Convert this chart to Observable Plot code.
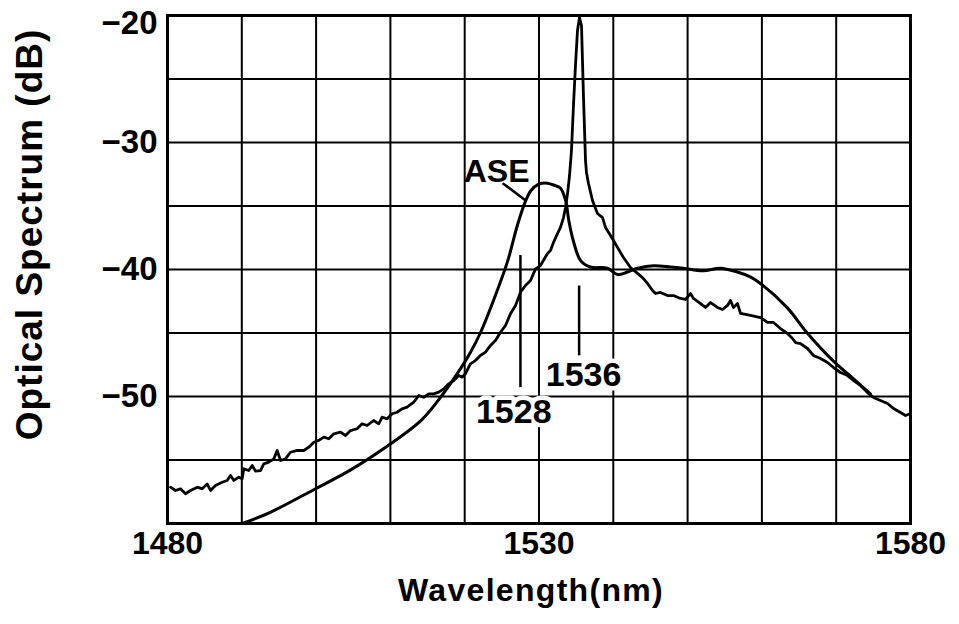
<!DOCTYPE html>
<html>
<head>
<meta charset="utf-8">
<script src="https://cdn.jsdelivr.net/npm/d3@7"></script>
<script src="https://cdn.jsdelivr.net/npm/@observablehq/plot@0.6"></script>
<style>
  html, body { margin: 0; padding: 0; background: white; }
</style>
</head>
<body>
<div id="chart"></div>
<script>
// ---- Data ----
const gridWavelengths = [1480, 1490, 1500, 1510, 1520, 1530, 1540, 1550, 1560, 1570, 1580];
const gridDb = [-60, -55, -50, -45, -40, -35, -30, -25, -20];
const xTickValues = [1480, 1530, 1580];
const yTickValues = [-20, -30, -40, -50];

// Laser output spectrum (noisy trace with sharp peak)
const laserWl = [
  1480.40, 1481.08, 1481.75, 1482.42, 1483.10, 1484.00, 1484.67, 1485.34, 1485.79, 1486.46,
  1487.36, 1488.03, 1488.48, 1488.93, 1489.60, 1490.05, 1490.27, 1490.94, 1491.40, 1491.84,
  1492.52, 1492.96, 1493.63, 1494.31, 1494.76, 1495.21, 1495.88, 1496.55, 1497.46, 1498.35,
  1499.02, 1499.69, 1500.36, 1501.04, 1501.71, 1502.38, 1503.28, 1503.96, 1504.63, 1505.52,
  1506.19, 1506.87, 1507.76, 1508.43, 1508.88, 1509.56, 1510.23, 1510.90, 1511.57, 1512.25,
  1513.14, 1513.82, 1514.49, 1515.16, 1515.83, 1516.51, 1517.18, 1517.85, 1518.53, 1519.20,
  1519.65, 1520.09, 1520.77, 1521.44, 1522.11, 1522.80, 1523.47, 1524.14, 1524.82, 1525.49,
  1526.16, 1526.84, 1527.51, 1528.18, 1528.86, 1529.53, 1530.20, 1531.14, 1531.55, 1531.95,
  1532.49, 1532.89, 1533.30, 1533.57, 1533.84, 1534.11, 1534.37, 1534.64, 1534.91, 1535.18,
  1535.45, 1535.72, 1535.99, 1536.26, 1536.39, 1536.66, 1537.20, 1537.87, 1538.55, 1538.95,
  1539.62, 1540.03, 1540.57, 1541.37, 1542.31, 1543.26, 1544.06, 1544.60, 1545.28, 1545.68,
  1546.35, 1547.29, 1548.10, 1549.04, 1549.72, 1550.39, 1550.79, 1551.74, 1552.41, 1553.08,
  1554.02, 1554.70, 1555.37, 1555.77, 1556.18, 1556.72, 1557.12, 1558.47, 1559.81, 1560.75,
  1561.56, 1562.50, 1563.45, 1564.12, 1564.52, 1565.19, 1566.14, 1566.94, 1567.89, 1568.83,
  1569.64, 1570.58, 1571.52, 1572.33, 1573.27, 1574.21, 1575.02, 1575.96, 1576.90, 1577.71,
  1578.65, 1579.33, 1580.00];
const laserDb = [
  -57.14, -57.40, -57.27, -57.66, -57.40, -57.14, -57.27, -56.88, -57.40, -57.01,
  -56.75, -56.61, -56.22, -56.61, -56.35, -56.48, -55.69, -55.83, -55.43, -55.88,
  -55.83, -55.30, -55.17, -54.91, -54.25, -55.04, -54.91, -54.39, -54.25, -54.25,
  -53.99, -53.60, -53.46, -53.20, -53.33, -52.94, -52.81, -53.07, -52.68, -52.54,
  -52.15, -52.28, -51.89, -52.15, -51.63, -51.76, -51.36, -51.24, -50.97, -50.84,
  -50.45, -49.92, -50.06, -49.79, -49.79, -49.66, -49.40, -49.00, -48.74, -48.35,
  -48.48, -48.21, -47.43, -47.17, -46.77, -46.51, -45.98, -45.59, -44.94, -44.41,
  -43.49, -42.83, -41.79, -41.26, -40.87, -39.95, -39.69, -38.74, -38.50, -37.87,
  -37.17, -36.69, -35.91, -35.12, -34.02, -32.60, -30.63, -27.09, -23.94, -21.18,
  -20.16, -20.79, -26.46, -31.42, -32.36, -33.23, -34.57, -35.59, -35.91, -36.69,
  -37.32, -37.72, -38.27, -39.06, -39.84, -40.31, -40.71, -41.10, -41.65, -41.89,
  -41.81, -42.05, -42.05, -42.28, -42.36, -41.89, -42.28, -42.68, -42.99, -42.60,
  -42.99, -43.15, -42.83, -42.44, -42.99, -42.68, -43.46, -43.62, -43.78, -44.17,
  -44.17, -44.65, -45.04, -45.43, -45.75, -45.83, -46.22, -46.77, -47.01, -47.32,
  -47.72, -48.11, -48.35, -48.74, -49.13, -49.69, -50.08, -50.31, -50.55, -50.94,
  -51.26, -51.50, -51.34];

// ASE spectrum (smooth trace)
const aseWl = [1490.1, 1493.9, 1499.8, 1504.6, 1509.6, 1514.1, 1516.7, 1519.0, 1520.8, 1522.1,
  1523.9, 1525.8, 1527.1, 1528.2, 1528.9, 1529.9, 1531.1, 1532.2, 1532.9, 1533.6,
  1534.0, 1534.6, 1535.6, 1536.9, 1539.2, 1540.6, 1541.9, 1543.3, 1545.4, 1547.7,
  1549.4, 1552.1, 1554.4, 1556.7, 1558.5, 1559.8, 1563.4, 1566.1, 1569.6, 1572.3,
  1574.6];
const aseDb = [-60.0, -59.1, -57.3, -55.8, -53.9, -51.9, -50.1, -48.2, -46.5, -45.0,
  -42.4, -39.3, -36.5, -34.6, -33.8, -33.3, -33.2, -33.4, -33.6, -34.6,
  -36.1, -37.7, -39.3, -39.8, -39.9, -40.4, -40.2, -39.9, -39.7, -39.8,
  -39.9, -40.1, -39.9, -40.2, -40.6, -41.1, -43.0, -45.0, -47.2, -48.6,
  -49.8];

// Annotations
const markerLabels = ["1528", "1536"];
const markerWl = [1527.5, 1535.4];
const markerTop = [-38.9, -41.3];
const markerBottom = [-49.3, -46.8];
const markerLabelWl = [1526.6, 1536.0];
const markerLabelDb = [-51.2, -48.3];

const aseLabel = "ASE";
const aseLabelPos = [1524.3, -32.3];
const aseLeader = [1525.1, -33.2, 1528.3, -34.6];

const xLabel = "Wavelength(nm)";
const yLabel = "Optical Spectrum (dB)";

// ---- Build tables ----
const laser = laserWl.map((w, i) => ({wl: w, db: laserDb[i]}));
const ase = aseWl.map((w, i) => ({wl: w, db: aseDb[i]}));
const markers = markerLabels.map((t, i) => ({
  text: t, wl: markerWl[i], top: markerTop[i], bottom: markerBottom[i],
  lx: markerLabelWl[i], ly: markerLabelDb[i]
}));
const topTick = d3.max(yTickValues);
const fmtY = d => (d < 0 ? "\u2212" : "") + Math.abs(d);

const FONT = "'Liberation Sans', Arial, Helvetica, sans-serif";

const chart = Plot.plot({
  width: 959,
  height: 624,
  marginLeft: 167,
  marginRight: 49,
  marginTop: 15,
  marginBottom: 101,
  style: {fontFamily: FONT, fontWeight: "bold", fontSize: "32px", color: "black", background: "white"},
  x: {domain: [1480, 1580], ticks: xTickValues, tickSize: 0, tickPadding: 8, tickFormat: d => String(d), label: null},
  y: {domain: [-60, -20], axis: null},
  marks: [
    Plot.ruleX(gridWavelengths, {stroke: "black", strokeWidth: 2}),
    Plot.ruleY(gridDb, {stroke: "black", strokeWidth: 2}),
    Plot.frame({stroke: "black", strokeWidth: 3}),
    Plot.line(ase, {x: "wl", y: "db", stroke: "black", strokeWidth: 3, curve: "catmull-rom"}),
    Plot.line(laser, {x: "wl", y: "db", stroke: "black", strokeWidth: 2.8, curve: "linear"}),
    Plot.ruleX(markers, {x: "wl", y1: "top", y2: "bottom", stroke: "black", strokeWidth: 2.5}),
    Plot.text(markers, {x: "lx", y: "ly", text: "text", fontSize: 34, fontWeight: "bold",
      fill: "black", stroke: "white", strokeWidth: 9}),
    Plot.link([aseLeader], {x1: d => d[0], y1: d => d[1], x2: d => d[2], y2: d => d[3],
      stroke: "black", strokeWidth: 2.5}),
    Plot.text([aseLabel], {x: () => aseLabelPos[0], y: () => aseLabelPos[1], text: d => d,
      fontSize: 32, fontWeight: "bold", fill: "black"}),
    // y tick labels
    Plot.text(yTickValues.filter(d => d !== topTick), {frameAnchor: "left", y: d => d, text: fmtY,
      textAnchor: "end", dx: -10, fontSize: 33, fontWeight: "bold", fill: "black"}),
    Plot.text(yTickValues.filter(d => d === topTick), {frameAnchor: "left", y: d => d, text: fmtY,
      textAnchor: "end", dx: -10, dy: 8, fontSize: 33, fontWeight: "bold", fill: "black"}),
    // axis titles
    Plot.text([xLabel], {frameAnchor: "bottom", text: d => d, dy: 77, dx: -8,
      fontSize: 32, fontWeight: "bold", fill: "black"}),
    Plot.text([yLabel], {frameAnchor: "left", text: d => d, rotate: -90, textAnchor: "middle",
      dx: -137, dy: -35, fontSize: 37, fontWeight: "bold", fill: "black"})
  ]
});

// letter spacing for the axis titles (the reference lettering is wide)
d3.select(chart).selectAll("text")
  .filter(function () { return this.textContent === xLabel; })
  .style("letter-spacing", "1.3px");
d3.select(chart).selectAll("text")
  .filter(function () { return this.textContent === yLabel; })
  .style("letter-spacing", "1px");

document.getElementById("chart").appendChild(chart);
</script>
</body>
</html>
